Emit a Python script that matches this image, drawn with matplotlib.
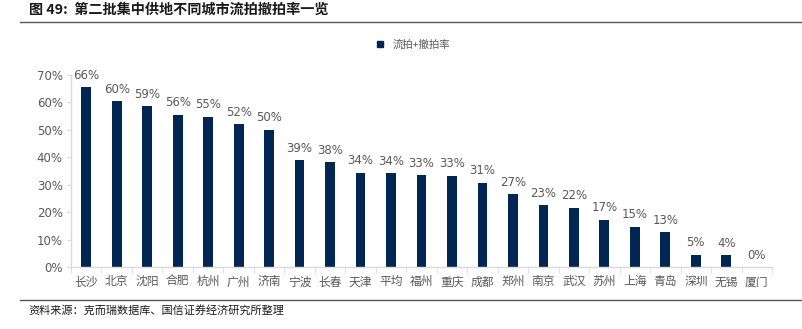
import numpy as np
import matplotlib.pyplot as plt
from matplotlib.lines import Line2D

plt.rcParams['font.family'] = ['Noto Sans CJK SC', 'DejaVu Sans']

cities = ["长沙", "北京", "沈阳", "合肥", "杭州", "广州", "济南", "宁波", "长春", "天津", "平均",
          "福州", "重庆", "成都", "郑州", "南京", "武汉", "苏州", "上海", "青岛", "深圳", "无锡", "厦门"]
rate = [0.656, 0.604, 0.587, 0.555, 0.548, 0.520, 0.500, 0.390, 0.382, 0.343, 0.342,
        0.334, 0.333, 0.307, 0.266, 0.226, 0.216, 0.173, 0.146, 0.126, 0.045, 0.042, 0.0]
labels = ["66%", "60%", "59%", "56%", "55%", "52%", "50%", "39%", "38%", "34%", "34%",
          "33%", "33%", "31%", "27%", "23%", "22%", "17%", "15%", "13%", "5%", "4%", "0%"]

bar_color = "#022654"
grey = "#595959"
axis_grey = "#d9d9d9"

fig = plt.figure(figsize=(8.03, 3.29), dpi=100)
ax = fig.add_axes([71 / 803, 1 - 267 / 329, 701 / 803, 192 / 329])

x = np.arange(len(cities))
ax.bar(x, rate, width=0.32, color=bar_color, label="流拍+撤拍率")
for xi, v, t in zip(x, rate, labels):
    ax.text(xi, v + 0.02, t, ha="center", va="bottom", fontsize=8.5, color=grey,
            family="DejaVu Sans")

ax.set_xlim(-0.5, len(cities) - 0.5)
ax.set_ylim(0, 0.7)
ax.set_yticks(np.arange(0, 0.71, 0.1))
ax.set_yticklabels([f"{int(round(v * 100))}%" for v in np.arange(0, 0.71, 0.1)],
                   fontsize=8.5, color=grey, family="DejaVu Sans")
ax.set_xticks(x)
ax.set_xticklabels(cities, fontsize=8.5, color=grey)
ax.set_xticks(np.arange(-0.5, len(cities), 1), minor=True)
ax.tick_params(axis="x", which="major", length=0, pad=6)
ax.tick_params(axis="x", which="minor", length=4, color=axis_grey, direction="out")
ax.tick_params(axis="y", length=3, color=axis_grey, pad=3)

for s in ["top", "right"]:
    ax.spines[s].set_visible(False)
for s in ["left", "bottom"]:
    ax.spines[s].set_color(axis_grey)
    ax.spines[s].set_linewidth(1.0)

handle = Line2D([], [], marker="s", linestyle="none", markersize=5, color=bar_color)
fig.legend([handle], ["流拍+撤拍率"], loc="center", bbox_to_anchor=(410 / 803, 1 - 45 / 329),
           frameon=False, fontsize=7.5, labelcolor=grey, handletextpad=0.2)

fig.text(29 / 803, 1 - 10 / 329, "图 49:  第二批集中供地不同城市流拍撤拍率一览", fontsize=10.2,
         fontweight="bold", va="center", ha="left", color="#1a1a1a")
fig.add_artist(Line2D([20 / 803, 1], [1 - 22 / 329, 1 - 22 / 329], color="#555555", lw=1.0))
fig.add_artist(Line2D([20 / 803, 1], [1 - 300 / 329, 1 - 300 / 329], color="#555555", lw=1.0))
fig.text(28 / 803, 1 - 310 / 329, "资料来源：克而瑞数据库、国信证券经济研究所整理", fontsize=8,
         va="center", ha="left", color="#1a1a1a")

fig.savefig("out.png", dpi=100)
